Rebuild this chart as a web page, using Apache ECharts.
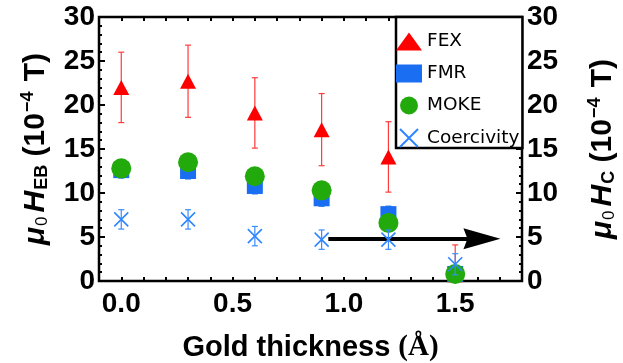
<!DOCTYPE html>
<html>
<head>
<meta charset="utf-8">
<script src="https://cdn.jsdelivr.net/npm/echarts@6/dist/echarts.min.js"></script>
<style>
html,body{margin:0;padding:0;background:#fff;}
#chart{width:623px;height:363px;}
</style>
</head>
<body>
<div id="chart"></div>
<script>
// ---- data ----
const thickness = [0, 0.3, 0.6, 0.9, 1.2, 1.5];
const fex = [22.0, 22.7, 19.1, 17.2, 14.1, 0.7];
const fexErr = [4.0, 4.1, 4.0, 4.1, 4.0, 3.4];
const fmr = [12.6, 12.5, 10.8, 9.4, 7.6, 0.8];
const fmrErr = [0.9, 0.9, 0.9, 0.9, 0.9, 0.9];
const moke = [12.8, 13.5, 11.9, 10.3, 6.6, 0.8];
const coercivity = [7.0, 7.0, 5.1, 4.7, 4.7, 1.9];
const coerErr = [1.1, 1.1, 1.1, 1.1, 1.1, 1.2];
const xTickLabels = [0, 0.5, 1.0, 1.5];
const xTicks = [0, 0.1, 0.2, 0.3, 0.4, 0.5, 0.6, 0.7, 0.8, 0.9, 1.0, 1.1, 1.2, 1.3, 1.4, 1.5, 1.6, 1.7];
const arrowStart = [0.93, 4.8];
const arrowEnd = [1.62, 4.8];

const SANS = '"Liberation Sans", Arial, sans-serif';
const LEG = '"DejaVu Sans", sans-serif';

function errData(vals, errs) {
  return thickness.map((x, i) => [x, vals[i] - errs[i], vals[i] + errs[i]]);
}
function errRender(color, lw, cap) {
  return function (params, api) {
    const x = api.value(0), lo = api.value(1), hi = api.value(2);
    const p1 = api.coord([x, lo]), p2 = api.coord([x, hi]);
    const st = { stroke: color, lineWidth: lw };
    return {
      type: 'group',
      children: [
        { type: 'line', shape: { x1: p1[0], y1: p1[1], x2: p2[0], y2: p2[1] }, style: st },
        { type: 'line', shape: { x1: p1[0] - cap, y1: p1[1], x2: p1[0] + cap, y2: p1[1] }, style: st },
        { type: 'line', shape: { x1: p2[0] - cap, y1: p2[1], x2: p2[0] + cap, y2: p2[1] }, style: st }
      ]
    };
  };
}
const pts = arr => thickness.map((x, i) => [x, arr[i]]);

const xPath = 'path://M0,0L10,10M10,0L0,10';
const arrowPath = 'path://M10,0L20,37L10,33L0,37Z';

const yName = function (sub) {
  return '{mu|μ}{s|0}{h|H}{s2|' + sub + '}{n| (10}{sup|−4}{n| T)}';
};
const TF = 30;
const yRich = {
  mu: { fontSize: TF, fontStyle: 'italic', fontWeight: 'bold', fontFamily: SANS, color: '#000', lineHeight: 36, verticalAlign: 'middle' },
  h: { fontSize: TF, fontStyle: 'italic', fontWeight: 'bold', fontFamily: SANS, color: '#000', lineHeight: 36, verticalAlign: 'middle', padding: [0, 1, 0, 2] },
  s: { fontSize: 17, fontWeight: 'normal', fontFamily: SANS, color: '#000', lineHeight: 17, verticalAlign: 'bottom', padding: [0, 2, 3, 1] },
  s2: { fontSize: 18, fontWeight: 'bold', fontFamily: SANS, color: '#000', lineHeight: 17, verticalAlign: 'bottom', padding: [0, 0, 3, 0] },
  n: { fontSize: TF, fontWeight: 'bold', fontFamily: SANS, color: '#000', lineHeight: 36, verticalAlign: 'middle' },
  sup: { fontSize: 18, fontWeight: 'bold', fontFamily: SANS, color: '#000', lineHeight: 18, verticalAlign: 'top', padding: [1, 2, 0, 1] }
};
const LF = 28;

const chart = echarts.init(document.getElementById('chart'), null, { renderer: 'canvas' });
const option = {
  animation: false,
  backgroundColor: '#fff',
  grid: { left: 99, right: 101, top: 17, bottom: 82, show: true, borderColor: '#000', borderWidth: 2.5, backgroundColor: 'transparent', outerBoundsMode: 'none', containLabel: false },
  xAxis: [
    {
      type: 'value', min: -0.1, max: 1.8, position: 'bottom',
      axisLine: { show: false, onZero: false },
      splitLine: { show: false },
      axisTick: { show: true, inside: true, length: 4, lineStyle: { color: '#000', width: 2 }, customValues: xTicks },
      axisLabel: { customValues: xTickLabels, formatter: v => v.toFixed(1), fontSize: LF, fontWeight: 'bold', fontFamily: SANS, color: '#000', margin: 9 },
      name: '{a|Gold thickness }{b|(Å)}',
      nameLocation: 'middle', nameGap: 52, nameMoveOverlap: false,
      nameTextStyle: { rich: {
        a: { fontSize: 29, fontWeight: 'bold', fontFamily: SANS, color: '#000' },
        b: { fontSize: 29, fontWeight: 'bold', fontFamily: '"Liberation Serif", "DejaVu Serif", serif', color: '#000' }
      } }
    },
    {
      type: 'value', min: -0.1, max: 1.8, position: 'top',
      axisLine: { show: false, onZero: false }, splitLine: { show: false },
      axisTick: { show: true, inside: true, length: 4, lineStyle: { color: '#000', width: 2 }, customValues: xTicks },
      axisLabel: { show: false }
    }
  ],
  yAxis: [
    {
      type: 'value', min: 0, max: 30, interval: 5, position: 'left',
      axisLine: { show: false, onZero: false }, splitLine: { show: false },
      axisTick: { show: true, inside: true, length: 6, lineStyle: { color: '#000', width: 2 } },
      minorTick: { show: true, splitNumber: 5, length: 3, lineStyle: { color: '#000', width: 2 } },
      axisLabel: { fontSize: LF, fontWeight: 'bold', fontFamily: SANS, color: '#000', margin: 4 },
      name: yName('EB'), nameLocation: 'middle', nameRotate: 90, nameGap: 45, nameMoveOverlap: false,
      nameTextStyle: { rich: yRich }
    },
    {
      type: 'value', min: 0, max: 30, interval: 5, position: 'right',
      axisLine: { show: false, onZero: false }, splitLine: { show: false },
      axisTick: { show: true, inside: true, length: 6, lineStyle: { color: '#000', width: 2 } },
      minorTick: { show: true, splitNumber: 5, length: 3, lineStyle: { color: '#000', width: 2 } },
      axisLabel: { fontSize: LF, fontWeight: 'bold', fontFamily: SANS, color: '#000', margin: 5 },
      name: yName('C'), nameLocation: 'middle', nameRotate: 90, nameGap: 63, nameMoveOverlap: false,
      nameTextStyle: { rich: yRich }
    }
  ],
  legend: {
    orient: 'vertical', left: 396, top: 17,
    backgroundColor: '#fff', borderColor: '#000', borderWidth: 2.5, borderRadius: 0,
    padding: [15, 3, 0, 0], itemGap: 13, itemWidth: 26, itemHeight: 18,
    textStyle: { fontSize: 18.5, fontFamily: LEG, color: '#000' },
    data: [
      { name: 'FEX', icon: 'triangle' },
      { name: 'FMR', icon: 'rect' },
      { name: 'MOKE', icon: 'circle' },
      { name: 'Coercivity', icon: xPath }
    ]
  },
  series: [
    { name: 'fexErr', type: 'custom', clip: true, xAxisIndex: 0, yAxisIndex: 0, renderItem: errRender('#ff3b3b', 1.2, 3), data: errData(fex, fexErr), silent: true, z: 2 },
    { name: 'FEX', type: 'scatter', xAxisIndex: 0, yAxisIndex: 0, symbol: 'triangle', symbolSize: [16, 15], itemStyle: { color: '#ff0000', opacity: 1 }, data: pts(fex), z: 3 },
    { name: 'fmrErr', type: 'custom', clip: true, xAxisIndex: 0, yAxisIndex: 0, renderItem: errRender('#1a6ef2', 1.2, 3), data: errData(fmr, fmrErr), silent: true, z: 4 },
    { name: 'FMR', type: 'scatter', xAxisIndex: 0, yAxisIndex: 0, symbol: 'rect', symbolSize: 16, itemStyle: { color: '#1a6ef2', opacity: 1 }, data: pts(fmr), z: 5 },
    { name: 'MOKE', type: 'scatter', xAxisIndex: 0, yAxisIndex: 0, symbol: 'circle', symbolSize: 20, itemStyle: { color: '#22aa0c', opacity: 1 }, data: pts(moke), z: 6 },
    { name: 'coerErr', type: 'custom', clip: true, xAxisIndex: 0, yAxisIndex: 1, renderItem: errRender('#3a8cff', 1.2, 3), data: errData(coercivity, coerErr), silent: true, z: 7 },
    { name: 'Coercivity', type: 'scatter', xAxisIndex: 0, yAxisIndex: 1, symbol: xPath, symbolSize: 14,
      itemStyle: { color: 'rgba(0,0,0,0)', borderColor: '#2f86ff', borderWidth: 1.6, opacity: 1 }, data: pts(coercivity), z: 8,
      markLine: {
        silent: true, symbol: ['none', arrowPath], symbolSize: [21, 37],
        lineStyle: { color: '#000', width: 4, type: 'solid' },
        itemStyle: { color: '#000' },
        label: { show: false },
        emphasis: { disabled: true },
        data: [[{ coord: arrowStart }, { coord: arrowEnd }]]
      }
    }
  ]
};
chart.setOption(option);
</script>
</body>
</html>
